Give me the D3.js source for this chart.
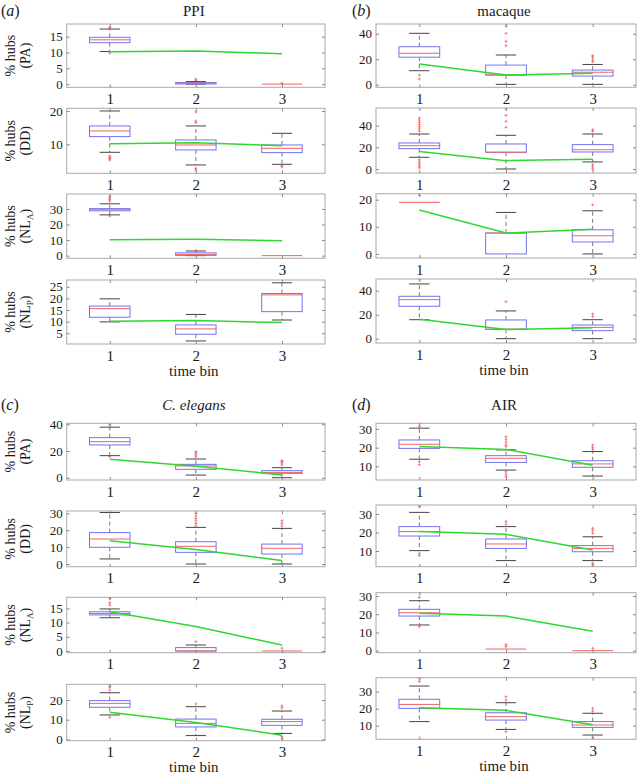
<!DOCTYPE html>
<html><head><meta charset="utf-8">
<script src="https://cdn.jsdelivr.net/npm/d3@7"></script>
<style>body{margin:0;background:#fff} svg{display:block} svg text{font-family:"Liberation Serif","Times New Roman",Times,serif !important;fill:#1a1a1a}</style>
</head><body>
<svg id="chart" width="640" height="775" font-family="Liberation Serif, Times New Roman, serif"></svg>
<script>
// ---------------- data ----------------
const bins = [1, 2, 3];
const binLabels = ["1", "2", "3"];
const xLabel = "time bin";
const yLabelMain = "% hubs";
const methodLabels = [["PA", ""], ["DD", ""], ["NL", "A"], ["NL", "P"]];
const networks = ["PPI", "macaque", "C. elegans", "AIR"];
const panelTags = ["a", "b", "c", "d"];

// box stats per time bin: [lower whisker, q1, median, q3, upper whisker]
const ppiPA  = [[10.3, 13.1, 14.0, 14.8, 17.4], [0, 0.05, 0.3, 0.5, 0.8], [0, 0, 0, 0, 0]];
const ppiDD  = [[7.6, 12.3, 14.0, 15.5, 20.0], [3.8, 8.3, 9.8, 11.3, 15.5], [4.0, 7.5, 8.8, 9.8, 13.3]];
const ppiNLA = [[26.2, 28.8, 29.5, 30.2, 33.3], [0, 0.2, 0.8, 1.8, 3.0], [0, 0, 0, 0, 0]];
const ppiNLP = [[9.9, 11.9, 15.6, 16.7, 19.8], [1.7, 4.6, 6.9, 8.6, 13.1], [10.7, 14.3, 21.5, 22.1, 26.7]];
const ppiPAOut  = [[17.6, 17.9, 9.8], [1.2, 1.6], [0.3]];
const ppiDDOut  = [[6.5, 6.1, 5.7, 5.3], [16.5, 17.0, 19.7, 2.8, 2.3], [3.6, 3.2]];
const ppiNLAOut = [[38, 37, 36, 35, 25.5], [3.3], []];
const ppiNLPOut = [[], [], []];
const ppiNull = [10.2, 10.5, 9.6];

const macPA  = [[11, 21.6, 24.7, 29.8, 40.3], [0.3, 7.6, 7.7, 15.4, 23.3], [0.3, 6.8, 9.8, 11.5, 15.9]];
const macDD  = [[10.8, 18.8, 21.5, 24, 32.3], [0, 15.4, 15.5, 23.1, 31.1], [6.5, 15.7, 17.8, 22.5, 32.3]];
const macNLA = [[19, 19, 19, 19, 19], [0, 0, 7.7, 7.7, 15.3], [0, 4.4, 6.7, 8.9, 15.9]];
const macNLP = [[15.8, 27, 32.5, 35.3, 45.6], [0, 7.8, 7.9, 15.6, 23.1], [0, 6.7, 9.4, 11.4, 15.8]];
const macPAOut  = [[7.6, 4.5], [30.6, 34, 40.3, 46], [18, 19.5, 21.5, 22.7]];
const macDDOut  = [[35, 37, 39, 41, 43, 45, 47, 8.5, 6.5, 4.5, 2.5, 1], [38.5, 44, 49.5, 55.5], [34.8, 36.3, 4, 2, 0]];
const macNLAOut = [[21.6], [], [18.1]];
const macNLPOut = [[49.2], [30.8], [18.3, 20.6]];
const macNull = [16.2, 7.7, 9.1];

const celPA  = [[16.5, 24.5, 27, 30, 37.8], [2, 6.3, 8.8, 10, 14], [0, 3.3, 4, 5.3, 7.5]];
const celDD  = [[3, 9.9, 14.8, 18.6, 30.5], [0, 6.9, 10.5, 13.2, 21.7], [0, 5.9, 9.3, 11.8, 21.1]];
const celNLA = [[11.7, 12.7, 13.2, 13.8, 14.8], [0, 0, 0, 1.2, 2.1], [0, 0, 0, 0, 0]];
const celNLP = [[12.4, 16.3, 18.3, 19.7, 23.7], [1.9, 6.3, 8.1, 10.3, 16.6], [3, 7.1, 9, 10.2, 14.4]];
const celPAOut  = [[39.5, 15.8], [15.5, 17, 18.5, 19.5], [9.5, 11, 12, 12.8]];
const celDDOut  = [[], [22.5, 24, 25.5, 27, 28.5, 30], [22.5, 24, 25.6]];
const celNLAOut = [[16.2, 17, 18.5], [3.3], [1]];
const celNLPOut = [[25, 26.5, 27.6, 11.2], [18], [16, 17, 1.4, 0.3]];
const celNull = [13.8, 8.6, 2.1];

const airPA  = [[13.8, 19.6, 21.8, 24.1, 30.4], [8, 12.1, 14.3, 15.7, 18.8], [4.8, 9.5, 11.3, 13, 17.9]];
const airDD  = [[10.2, 18.1, 20.5, 23.2, 30.9], [4.8, 11.4, 13.8, 16.5, 23.2], [4.8, 9.6, 11.4, 12.9, 17.7]];
const airNLA = [[14.1, 19, 20.8, 22.7, 27.4], [0.9, 0.9, 0.9, 0.9, 0.9], [0, 0, 0, 0, 0]];
const airNLP = [[12.4, 20.2, 22.5, 25.5, 33.3], [7.8, 13.3, 15.3, 17.6, 23.5], [4.5, 9, 10.4, 12.4, 17.3]];
const airPAOut  = [[31.3, 33, 12.5, 10.9], [20.5, 21.5, 23, 24.5, 25.9, 7.1, 5.8, 4.5], [19, 20, 21.4]];
const airDDOut  = [[34, 8.7, 7.5], [24.5, 26], [19.6, 21, 22.3, 3.4, 2.4]];
const airNLAOut = [[29.2, 31.8, 13.2], [2.2, 3.3], [1.3]];
const airNLPOut = [[35.9, 37.8], [25, 27, 6.5], [18.6, 20.2, 3.1]];
const airNull = [20.6, 19.0, 10.6];

// y-axis ranges and tick labels per subplot
const ppiDomains = [[-1, 19], [1.3, 20.8], [-1.7, 39.6], [0.4, 27.9]];
const ppiTicks = [[0, 5, 10, 15], [10, 20], [0, 10, 20, 30], [5, 10, 15, 20, 25]];
const macDomains = [[-2, 47.6], [-3.7, 56.3], [-1.5, 22.2], [-3.6, 49.7]];
const macTicks = [[0, 20, 40], [0, 20, 40], [0, 10, 20], [0, 20, 40]];
const celDomains = [[-1.7, 40.7], [-1.6, 31.4], [-0.6, 18.9], [-0.7, 28]];
const celTicks = [[0, 20, 40], [0, 10, 20, 30], [0, 5, 10, 15], [0, 10, 20]];
const airDomains = [[2.7, 33], [1.5, 34.9], [-1.1, 31.8], [2, 38.2]];
const airTicks = [[10, 20, 30], [10, 20, 30], [0, 10, 20, 30], [10, 20, 30]];

// ---------------- layout ----------------
const FONT = "'Liberation Serif', 'Times New Roman', Times, serif";
const svg = d3.select("#chart");
const panels = [
  { boxes: [ppiPA, ppiDD, ppiNLA, ppiNLP], outs: [ppiPAOut, ppiDDOut, ppiNLAOut, ppiNLPOut], nul: ppiNull, doms: ppiDomains, ticks: ppiTicks,
    L: 66.7, R: 325, rows: [[24, 87.3], [108.3, 173.3], [194, 258.3], [280, 344]], titleY: 15.5, tagX: 1, xlabY: 376, ylab: true },
  { boxes: [macPA, macDD, macNLA, macNLP], outs: [macPAOut, macDDOut, macNLAOut, macNLPOut], nul: macNull, doms: macDomains, ticks: macTicks,
    L: 376, R: 636, rows: [[24, 87.3], [108, 173], [193.7, 258], [279, 343]], titleY: 15.5, tagX: 352, xlabY: 375, ylab: false },
  { boxes: [celPA, celDD, celNLA, celNLP], outs: [celPAOut, celDDOut, celNLAOut, celNLPOut], nul: celNull, doms: celDomains, ticks: celTicks,
    L: 66.7, R: 325, rows: [[423.3, 480], [511, 566.7], [597.3, 652.7], [684.3, 740.7]], titleY: 409.5, tagX: 1, xlabY: 772, ylab: true },
  { boxes: [airPA, airDD, airNLA, airNLP], outs: [airPAOut, airDDOut, airNLAOut, airNLPOut], nul: airNull, doms: airDomains, ticks: airTicks,
    L: 376, R: 636, rows: [[423.3, 480], [505, 566.7], [592.7, 652.7], [677.7, 739.3]], titleY: 409.5, tagX: 352, xlabY: 771, ylab: false }
];

const C = { frame: "#a8a8a8", box: "#7373f0", med: "#ee6464", whisk: "#555", cap: "#444", out: "#ee5050", nul: "#2fd82f" };
const boxW = 0.47;

function drawSubplot(g, L, R, T, B, box, out, nul, dom, ticks) {
  const x = d3.scaleLinear().domain([0.5, 3.5]).range([L, R]);
  const y = d3.scaleLinear().domain(dom).range([B, T]);
  const clip = "clip" + Math.round(L) + "_" + Math.round(T);
  g.append("clipPath").attr("id", clip).append("rect").attr("x", L).attr("y", T).attr("width", R - L).attr("height", B - T);
  const inner = g.append("g").attr("clip-path", `url(#${clip})`);

  box.forEach((s, i) => {
    const c = bins[i];
    const [lo, q1, md, q3, hi] = s;
    const xl = x(c - boxW / 2), xr = x(c + boxW / 2), xc = x(c);
    const capL = x(c - boxW / 4), capR = x(c + boxW / 4);
    inner.append("line").attr("x1", xc).attr("x2", xc).attr("y1", y(q3)).attr("y2", y(hi))
      .attr("stroke", C.whisk).attr("stroke-width", 0.8).attr("stroke-dasharray", "4,3");
    inner.append("line").attr("x1", xc).attr("x2", xc).attr("y1", y(q1)).attr("y2", y(lo))
      .attr("stroke", C.whisk).attr("stroke-width", 0.8).attr("stroke-dasharray", "4,3");
    if (hi > q3) inner.append("line").attr("x1", capL).attr("x2", capR).attr("y1", y(hi)).attr("y2", y(hi)).attr("stroke", C.cap).attr("stroke-width", 1);
    if (lo < q1) inner.append("line").attr("x1", capL).attr("x2", capR).attr("y1", y(lo)).attr("y2", y(lo)).attr("stroke", C.cap).attr("stroke-width", 1);
    inner.append("rect").attr("x", xl).attr("y", y(q3)).attr("width", xr - xl).attr("height", Math.max(0, y(q1) - y(q3)))
      .attr("fill", "none").attr("stroke", C.box).attr("stroke-width", 1);
    inner.append("line").attr("x1", xl).attr("x2", xr).attr("y1", y(md)).attr("y2", y(md)).attr("stroke", C.med).attr("stroke-width", 1);
    out[i].forEach(v => {
      const py = y(v), h = 1.5;
      inner.append("path").attr("d", `M${xc - h},${py}H${xc + h}M${xc},${py - h}V${py + h}`)
        .attr("stroke", C.out).attr("stroke-width", 0.8).attr("fill", "none").attr("opacity", 0.85);
    });
  });

  inner.append("path").datum(nul)
    .attr("d", d3.line().x((d, i) => x(bins[i])).y(d => y(d)))
    .attr("fill", "none").attr("stroke", C.nul).attr("stroke-width", 1.5);

  g.append("rect").attr("x", L).attr("y", T).attr("width", R - L).attr("height", B - T)
    .attr("fill", "none").attr("stroke", C.frame).attr("stroke-width", 1);

  const styleAxis = a => { a.attr("font-family", FONT); a.select(".domain").remove(); a.selectAll("line").attr("stroke", "#888"); return a; };
  const ax = styleAxis(g.append("g").attr("transform", `translate(${L},0)`)
    .call(d3.axisLeft(y).tickValues(ticks).tickSize(-3).tickPadding(4).tickFormat(d3.format("d"))));
  ax.selectAll("text").style("font-size", "13px").style("font-family", FONT).attr("fill", "#1a1a1a");
  styleAxis(g.append("g").attr("transform", `translate(${R},0)`).call(d3.axisRight(y).tickValues(ticks).tickSize(-3).tickFormat("")));
  styleAxis(g.append("g").attr("transform", `translate(0,${T})`).call(d3.axisTop(x).tickValues(bins).tickSize(-3).tickFormat("")));
  const bx = styleAxis(g.append("g").attr("transform", `translate(0,${B})`)
    .call(d3.axisBottom(x).tickValues(bins).tickSize(-3).tickPadding(6).tickFormat((d, i) => binLabels[i])));
  bx.selectAll("text").style("font-size", "15px").style("font-family", FONT).attr("fill", "#1a1a1a");
}

panels.forEach((p, pi) => {
  const g = svg.append("g").attr("font-family", FONT);
  const cx = (p.L + p.R) / 2 - 2;
  const tag = g.append("text").attr("x", p.tagX).attr("y", p.titleY).style("font-size", "16px").style("font-family", FONT);
  tag.append("tspan").text("(");
  tag.append("tspan").style("font-style", "italic").text(panelTags[pi]);
  tag.append("tspan").text(")");
  g.append("text").attr("x", cx).attr("y", p.titleY).attr("text-anchor", "middle").style("font-size", "15px").style("font-family", FONT)
    .style("font-style", pi === 2 ? "italic" : "normal").text(networks[pi]);
  p.rows.forEach((r, ri) => {
    drawSubplot(g, p.L, p.R, r[0], r[1], p.boxes[ri], p.outs[ri], p.nul, p.doms[ri], p.ticks[ri]);
    if (p.ylab) {
      const cy = (r[0] + r[1]) / 2;
      g.append("text").attr("transform", `translate(15,${cy}) rotate(-90)`).attr("text-anchor", "middle")
        .style("font-size", "14px").style("font-family", FONT).text(yLabelMain);
      const t = g.append("text").attr("transform", `translate(30,${cy}) rotate(-90)`).attr("text-anchor", "middle")
        .style("font-size", "14px").style("font-family", FONT);
      t.append("tspan").text("(" + methodLabels[ri][0]);
      if (methodLabels[ri][1]) t.append("tspan").attr("dy", 3).style("font-size", "9px").text(methodLabels[ri][1]);
      t.append("tspan").attr("dy", methodLabels[ri][1] ? -3 : 0).text(")");
    }
  });
  g.append("text").attr("x", cx).attr("y", p.xlabY).attr("text-anchor", "middle").style("font-size", "15px").style("font-family", FONT).text(xLabel);
});
</script>
</body></html>
